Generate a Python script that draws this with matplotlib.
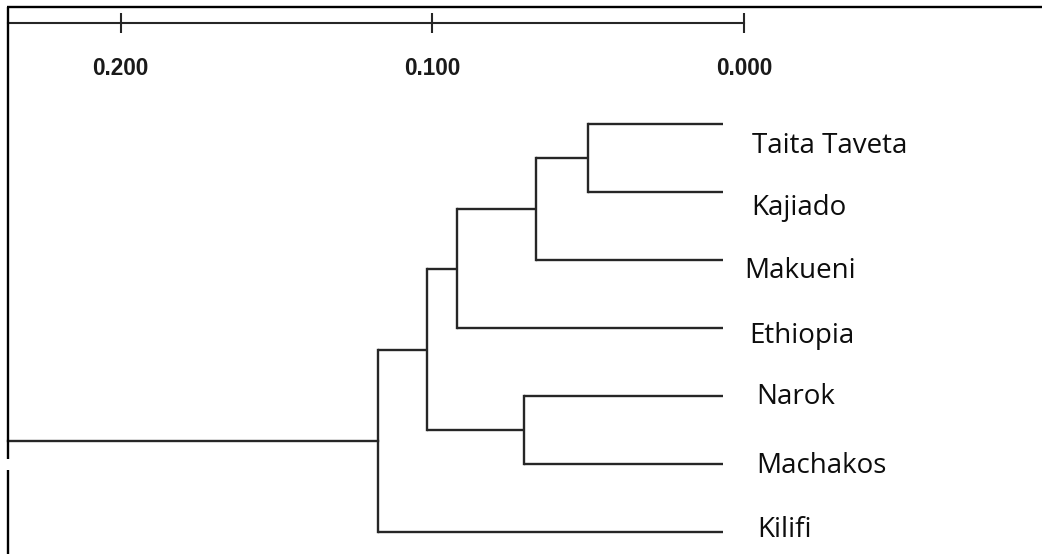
import matplotlib
matplotlib.use("Agg")
import matplotlib.pyplot as plt
from matplotlib.lines import Line2D

# Populations (leaf order, top to bottom)
leaves = ["Taita Taveta", "Kajiado", "Makueni", "Ethiopia", "Narok", "Machakos", "Kilifi"]

# Cluster joins: (child_a, child_b, genetic distance); ids >= len(leaves) are earlier joins
merge_a = [0, 7, 8, 4, 9, 11]
merge_b = [1, 2, 3, 5, 10, 6]
merge_height = [0.0432, 0.0601, 0.0854, 0.0637, 0.0950, 0.1106]

# Scale bar
scale_ticks = [0.200, 0.100, 0.000]
scale_labels = ["0.200", "0.100", "0.000"]

W, H = 1042, 554
fig = plt.figure(figsize=(W / 100, H / 100), dpi=100)
fig.patch.set_facecolor("white")

line_col = "#262626"
lw = 1.7

# ---- tree ----
px_per_unit = 3118.0
leaf_px = 723.0
left_px = 8.0
ax = fig.add_axes([left_px / W, 0, (leaf_px - left_px) / W, 1])
ax.set_xlim((leaf_px - left_px) / px_per_unit, 0)
row_px, first_row = 68.0, 124.3
ax.set_ylim((H - first_row) / row_px, -first_row / row_px)
ax.axis("off")

ypos = {i: float(i) for i in range(len(leaves))}
xpos = {i: 0.0 for i in range(len(leaves))}
for k, (a, b, h) in enumerate(zip(merge_a, merge_b, merge_height)):
    cid = len(leaves) + k
    ax.plot([h, h], [ypos[a], ypos[b]], color=line_col, lw=lw, solid_capstyle="projecting", clip_on=False)
    for c in (a, b):
        ax.plot([xpos[c], h], [ypos[c], ypos[c]], color=line_col, lw=lw, solid_capstyle="butt", clip_on=False)
    ypos[cid] = (ypos[a] + ypos[b]) / 2
    xpos[cid] = h

root = len(leaves) + len(merge_height) - 1
ax.plot([xpos[root], ax.get_xlim()[0]], [ypos[root], ypos[root]], color=line_col, lw=lw, clip_on=False)

# leaf names
name_dx = [29, 28, 21, 26, 33, 33, 34]
name_dy = [29, 23, 18, 15, 8, 9, 5]
for i, name in enumerate(leaves):
    ax.annotate(name, xy=(0, i), xytext=(name_dx[i], -name_dy[i]), textcoords="offset pixels",
                ha="left", va="baseline", fontsize=20, family="Open Sans", color="#0d0d0d",
                annotation_clip=False)

# ---- scale bar ----
zero_px = 744.3
sax = fig.add_axes([left_px / W, (H - 23) / H, (zero_px - left_px) / W, 0.0005])
sax.set_xlim((zero_px - left_px) / px_per_unit, 0)
sax.set_ylim(0, 1)
sax.patch.set_visible(False)
for s in ("top", "left", "right"):
    sax.spines[s].set_visible(False)
sax.spines["bottom"].set_linewidth(1.5)
sax.spines["bottom"].set_color(line_col)
sax.set_yticks([])
sax.set_xticks(scale_ticks)
sax.set_xticklabels(scale_labels)
sax.tick_params(axis="x", direction="inout", length=15, width=1.5, color=line_col, pad=17,
                labelsize=16.3, labelcolor="#1a1a1a")
for t in sax.get_xticklabels():
    t.set_fontweight("bold")
    t.set_family("Liberation Sans")

# ---- frame lines ----
def fig_line(x0, y0, x1, y1, width=1.7):
    fig.add_artist(Line2D([x0 / W, x1 / W], [1 - y0 / H, 1 - y1 / H], transform=fig.transFigure,
                          color="black", lw=width, solid_capstyle="butt"))

fig_line(7.3, 7.3, W, 7.3)
fig_line(8, 6.5, 8, 459)
fig_line(8, 470, 8, H)

fig.savefig("out.png", dpi=100, facecolor="white")
